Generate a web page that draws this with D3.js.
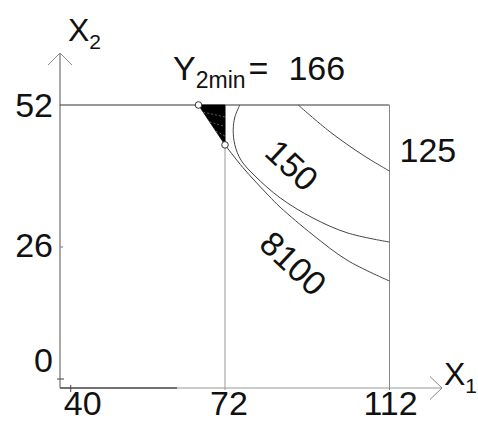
<!DOCTYPE html>
<html>
<head>
<meta charset="utf-8">
<script src="https://cdn.jsdelivr.net/npm/d3@7"></script>
<style>
  html, body { margin: 0; padding: 0; background: #fff; }
  text { font-family: "Liberation Sans", Arial, sans-serif; fill: #111; }
</style>
</head>
<body>
<svg id="chart" width="478" height="423"></svg>
<script>
// Axis tick values
const xTicks = [40, 72, 112];
const yTicks = [0, 26, 52];

// Bounds of the feasible region
const x1Min = 72;
const x1Max = 112;
const x2Max = 52;

// Level lines of the objective and constraint, as (x1, x2) pairs
const levels = ["125", "150", "8100"];
const curve125  = [[89.8, 52], [97.5, 47.1], [105.6, 42.8], [112, 39.9]];
const curve150  = [[75.6, 52], [74.4, 49.8], [74.0, 47.4], [74.4, 44.7], [75.9, 41.9],
                   [79.3, 39.0], [85.4, 35.0], [93.4, 31.3], [101.7, 28.6], [112, 26.9]];
const curve8100 = [[72, 44.7], [76.4, 40.5], [82.5, 35.5], [85.4, 33.3], [93.4, 28.2],
                   [101.7, 23.4], [112, 19.3]];

// Optimum region corners and its value
const optimum = [[66.5, 52], [72, 52], [72, 44.7]];
const optimumValue = 166;

const svg = d3.select("#chart");

// Piecewise-linear scales (axes are drawn not to scale)
const x = d3.scaleLinear().domain(xTicks).range([70.7, 225, 389.5]);
const y = d3.scaleLinear().domain(yTicks).range([379, 247, 105]);

const ox = 60, oy = 388;           // axis origin in pixels
const xEnd = 442, yEnd = 53;       // arrow tips

const line = d3.line().x(d => x(d[0])).y(d => y(d[1])).curve(d3.curveCatmullRom.alpha(0.5));

// --- axes ---
svg.append("line").attr("x1", ox).attr("y1", oy).attr("x2", ox).attr("y2", yEnd)
  .attr("stroke", "#555").attr("stroke-width", 1);
svg.append("path").attr("d", `M${ox - 12},${yEnd + 12}L${ox},${yEnd}L${ox + 12},${yEnd + 12}`)
  .attr("fill", "none").attr("stroke", "#888").attr("stroke-width", 1);

svg.append("line").attr("x1", ox).attr("y1", oy).attr("x2", xEnd).attr("y2", oy)
  .attr("stroke", "#999").attr("stroke-width", 1);
svg.append("line").attr("x1", ox).attr("y1", oy).attr("x2", 177).attr("y2", oy)
  .attr("stroke", "#555").attr("stroke-width", 1.4);
svg.append("path").attr("d", `M${xEnd - 12},${oy - 11.5}L${xEnd},${oy}L${xEnd - 12},${oy + 11.5}`)
  .attr("fill", "none").attr("stroke", "#888").attr("stroke-width", 1);

// small ticks
svg.append("line").attr("x1", ox).attr("x2", ox + 3).attr("y1", y(26)).attr("y2", y(26))
  .attr("stroke", "#777");
svg.append("line").attr("x1", ox - 3).attr("x2", ox + 4).attr("y1", y(0)).attr("y2", y(0))
  .attr("stroke", "#444");
svg.append("line").attr("x1", x(40)).attr("x2", x(40)).attr("y1", oy - 3).attr("y2", oy + 4)
  .attr("stroke", "#444");

// --- region bounds ---
svg.append("line").attr("x1", ox).attr("x2", x(x1Max)).attr("y1", y(x2Max)).attr("y2", y(x2Max))
  .attr("stroke", "#333").attr("stroke-width", 1);
svg.append("line").attr("x1", x(x1Min)).attr("x2", x(x1Min)).attr("y1", y(x2Max)).attr("y2", oy + 2)
  .attr("stroke", "#999").attr("stroke-width", 1);
svg.append("line").attr("x1", x(x1Max)).attr("x2", x(x1Max)).attr("y1", y(x2Max)).attr("y2", oy + 2)
  .attr("stroke", "#888").attr("stroke-width", 1);

// --- level lines ---
[curve125, curve150, curve8100].forEach(c => {
  svg.append("path").attr("d", line(c)).attr("fill", "none")
    .attr("stroke", "#444").attr("stroke-width", 1);
});

// --- optimum triangle ---
svg.append("path")
  .attr("d", d3.line().x(d => x(d[0])).y(d => y(d[1]))(optimum) + "Z")
  .attr("fill", "#000").attr("stroke", "#000").attr("stroke-width", 0.8);

// hatching inside the triangle
const [pA, pB, pC] = optimum.map(d => [x(d[0]), y(d[1])]);
[0.18, 0.42, 0.66].forEach(t => {
  const sx = pA[0] + (pC[0] - pA[0]) * t, sy = pA[1] + (pC[1] - pA[1]) * t;
  const ex = pB[0], ey = pB[1] + (pC[1] - pB[1]) * (t + 0.12);
  svg.append("line").attr("x1", sx).attr("y1", sy).attr("x2", ex).attr("y2", ey)
    .attr("stroke", "#777").attr("stroke-width", 0.8).attr("stroke-dasharray", "2,2");
});

[optimum[0], optimum[2]].forEach(d => {
  svg.append("circle").attr("cx", x(d[0])).attr("cy", y(d[1])).attr("r", 3.3)
    .attr("fill", "#fff").attr("stroke", "#333").attr("stroke-width", 1);
});

// --- tick labels ---
const fs = 34;
svg.selectAll(".ylab").data(yTicks).join("text")
  .attr("x", 53).attr("y", d => y(d))
  .attr("dy", d => d === 0 ? -7 : (d === 26 ? 10 : 12))
  .attr("text-anchor", "end").attr("font-size", fs).text(d => d);

svg.selectAll(".xlab").data(xTicks).join("text")
  .attr("x", d => x(d)).attr("y", 415)
  .attr("dx", (d, i) => i === 0 ? 12 : (i === 1 ? 4 : 1))
  .attr("text-anchor", "middle").attr("font-size", fs).text(d => d);

// axis titles
const t2 = svg.append("text").attr("x", 68).attr("y", 41).attr("font-size", 32);
t2.append("tspan").text("X");
t2.append("tspan").attr("font-size", 21).attr("dy", 8).text("2");

const t1 = svg.append("text").attr("x", 444).attr("y", 385).attr("font-size", 32);
t1.append("tspan").text("X");
t1.append("tspan").attr("font-size", 21).attr("dy", 8).text("1");

// optimum value
const tt = svg.append("text").attr("x", 173).attr("y", 80).attr("font-size", 34);
tt.append("tspan").text("Y");
tt.append("tspan").attr("font-size", 23).attr("dy", 8).text("2min");
tt.append("tspan").attr("dy", -8).attr("dx", 3).text("=");
tt.append("tspan").attr("dx", 20).text(optimumValue);

// level labels
svg.append("text").attr("x", x(x1Max) + 10).attr("y", y(41.6))
  .attr("font-size", fs).text(levels[0]);
svg.append("text").attr("transform", `translate(${x(88.3)},${y(41.0)}) rotate(43)`)
  .attr("text-anchor", "middle").attr("dy", 12).attr("font-size", fs).text(levels[1]);
svg.append("text").attr("transform", `translate(${x(88.6)},${y(22.8)}) rotate(43)`)
  .attr("text-anchor", "middle").attr("dy", 12).attr("font-size", fs).text(levels[2]);
</script>
</body>
</html>
